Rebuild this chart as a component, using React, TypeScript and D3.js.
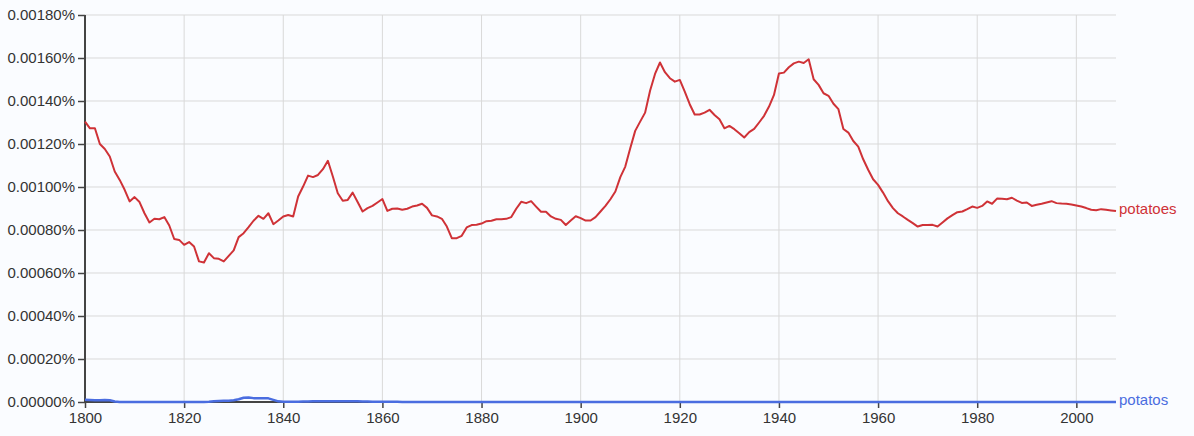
import { useEffect, useRef } from "react";
import * as d3 from "d3";

const C = {
  bg: "#fafcff", grid: "#d9d9d9", axis: "#444", text: "#333",
  red: "#cf3237", blue: "#4a6de0",
};

const W = 1194, H = 436;
const M = { top: 15, right: 78, bottom: 34, left: 85 };
const IW = W - M.left - M.right;
const IH = H - M.top - M.bottom;

const YEARS = d3.range(1800, 2009);
const X_TICKS = [1800, 1820, 1840, 1860, 1880, 1900, 1920, 1940, 1960, 1980, 2000];
// values are in units of 0.00001 %
const Y_TICKS = [0, 20, 40, 60, 80, 100, 120, 140, 160, 180];

const POTATOES = [
  130.4, 127.3, 127.3, 120, 117.7, 114.2, 107.2, 103.3, 98.7, 93.3,
  95.3, 93, 87.8, 83.5, 85.2, 85, 86, 82.1, 75.8, 75.4,
  73.1, 74.4, 72.3, 65.4, 64.9, 69.2, 66.9, 66.6, 65.4, 68,
  70.5, 76.7, 78.5, 81.3, 84.3, 86.6, 85.2, 87.8, 82.7, 84.4,
  86.3, 87, 86.3, 95.6, 100.2, 105.3, 104.6, 105.6, 108.3, 112.2,
  104.9, 97.1, 93.6, 94, 97.4, 93, 88.6, 90.2, 91.2, 92.8,
  94.4, 88.9, 89.9, 90, 89.4, 89.9, 90.9, 91.4, 92.2, 90.3,
  86.8, 86.3, 85.2, 81.6, 76.2, 76.2, 77.3, 81.2, 82.3, 82.4,
  83, 84.1, 84.3, 85, 85, 85.2, 86, 89.9, 93.1, 92.5,
  93.4, 90.9, 88.5, 88.5, 86.3, 85.2, 84.7, 82.3, 84.4, 86.4,
  85.5, 84.4, 84.4, 86, 88.6, 91.2, 94.3, 97.9, 104.6, 109.5,
  118, 126.1, 130.4, 134.6, 144.8, 152.6, 157.9, 153.4, 150.6, 149,
  149.8, 144.4, 138.5, 133.7, 133.7, 134.6, 135.9, 133.5, 131.5, 127.3,
  128.4, 126.9, 125, 123, 125.5, 127, 130, 133.1, 137.4, 142.8,
  152.8, 153.2, 155.7, 157.5, 158.3, 157.7, 159.4, 150.1, 147.5, 143.6,
  142.4, 138.7, 136.2, 127, 125.3, 121.4, 118.8, 112.9, 108, 103.6,
  101, 97.4, 93.4, 90.2, 87.8, 86.3, 84.7, 83.2, 81.6, 82.3,
  82.3, 82.4, 81.6, 83.5, 85.4, 86.9, 88.3, 88.6, 89.7, 90.9,
  90.3, 91.2, 93.3, 92.2, 94.6, 94.5, 94.3, 95, 93.7, 92.6,
  92.8, 91.2, 91.7, 92.2, 92.8, 93.4, 92.5, 92.3, 92.2, 91.9,
  91.4, 90.9, 90.2, 89.4, 89.2, 89.7, 89.4, 89.1, 88.8,
];

const POTATOS = [
  1.0, 0.9, 0.8, 0.8, 0.9, 0.8, 0.2, 0, 0, 0,
  0, 0, 0, 0, 0, 0, 0, 0, 0, 0,
  0, 0, 0, 0, 0, 0.1, 0.3, 0.5, 0.6, 0.6,
  0.8, 1.3, 2.0, 2.1, 1.8, 1.8, 1.8, 1.7, 1.0, 0.3,
  0.1, 0.1, 0.1, 0.1, 0.2, 0.2, 0.3, 0.3, 0.4, 0.4,
  0.4, 0.4, 0.4, 0.3, 0.3, 0.3, 0.2, 0.2, 0.1, 0.1,
  0.1, 0.1, 0.1, 0.1, 0, 0, 0, 0, 0, 0,
  0, 0, 0, 0, 0, 0, 0, 0, 0, 0,
  0, 0, 0, 0, 0, 0, 0, 0, 0, 0,
  0, 0, 0, 0, 0, 0, 0, 0, 0, 0,
  0, 0, 0, 0, 0, 0, 0, 0, 0, 0,
  0, 0, 0, 0, 0, 0, 0, 0, 0, 0,
  0, 0, 0, 0, 0, 0, 0, 0, 0, 0,
  0, 0, 0, 0, 0, 0, 0, 0, 0, 0,
  0, 0, 0, 0, 0, 0, 0, 0, 0, 0,
  0, 0, 0, 0, 0, 0, 0, 0, 0, 0,
  0, 0, 0, 0, 0, 0, 0, 0, 0, 0,
  0, 0, 0, 0, 0, 0, 0, 0, 0, 0,
  0, 0, 0, 0, 0, 0, 0, 0, 0, 0,
  0, 0, 0, 0, 0, 0, 0, 0, 0, 0,
  0, 0, 0, 0, 0, 0, 0, 0, 0,
];

const SERIES = [
  { name: "potatoes", values: POTATOES, color: C.red, width: 2 },
  { name: "potatos", values: POTATOS, color: C.blue, width: 2.5 },
];

const FONT = "'Liberation Sans', Arial, sans-serif";

export default function App() {
  const svgRef = useRef<SVGSVGElement>(null);

  useEffect(() => {
    const svg = d3.select(svgRef.current);
    svg.selectAll("*").remove();
    const g = svg.append("g").attr("transform", `translate(${M.left},${M.top})`);

    const x = d3.scaleLinear().domain([1800, 2008]).range([0, IW]);
    const y = d3.scaleLinear().domain([0, 180]).range([IH, 0]);

    // grid
    g.append("g").selectAll("line").data(Y_TICKS.slice(1)).join("line")
      .attr("x1", 0).attr("x2", IW).attr("y1", d => y(d)).attr("y2", d => y(d))
      .attr("stroke", C.grid).attr("stroke-width", 1);
    g.append("g").selectAll("line").data(X_TICKS.slice(1)).join("line")
      .attr("x1", d => x(d)).attr("x2", d => x(d)).attr("y1", 0).attr("y2", IH)
      .attr("stroke", C.grid).attr("stroke-width", 1);

    // axes
    const yAxis = g.append("g")
      .call(d3.axisLeft(y).tickValues(Y_TICKS).tickSize(7).tickPadding(3)
        .tickFormat(d => ((d as number) / 100000).toFixed(5) + "%"));
    const xAxis = g.append("g").attr("transform", `translate(0,${IH})`)
      .call(d3.axisBottom(x).tickValues(X_TICKS).tickSize(6).tickPadding(4)
        .tickFormat(d3.format("d")));
    [yAxis, xAxis].forEach(ax => {
      ax.select(".domain").attr("stroke", C.axis).attr("stroke-width", 2);
      ax.selectAll(".tick line").attr("stroke", C.axis).attr("stroke-width", 1.5);
      ax.selectAll("text").attr("fill", C.text).attr("font-size", 15).attr("font-family", FONT);
    });
    yAxis.select(".domain").attr("d", `M0,0V${IH}`);
    xAxis.select(".domain").attr("d", `M0,0H${IW}`);

    // lines
    SERIES.forEach(s => {
      const line = d3.line<number>()
        .x((_, i) => x(YEARS[i])).y(v => y(v));
      g.append("path").datum(s.values)
        .attr("fill", "none").attr("stroke", s.color)
        .attr("stroke-width", s.width).attr("stroke-linejoin", "round")
        .attr("d", line);
      const last = s.values[s.values.length - 1];
      g.append("text")
        .attr("x", IW + 3).attr("y", y(last) - 2).attr("dy", "0.35em")
        .attr("fill", s.color).attr("font-size", 15).attr("font-family", FONT)
        .text(s.name);
    });
  }, []);

  return (
    <div style={{ position: "fixed", left: 0, top: 0, width: W, height: H, background: C.bg }}>
      <svg ref={svgRef} width={W} height={H} style={{ display: "block" }} />
    </div>
  );
}
